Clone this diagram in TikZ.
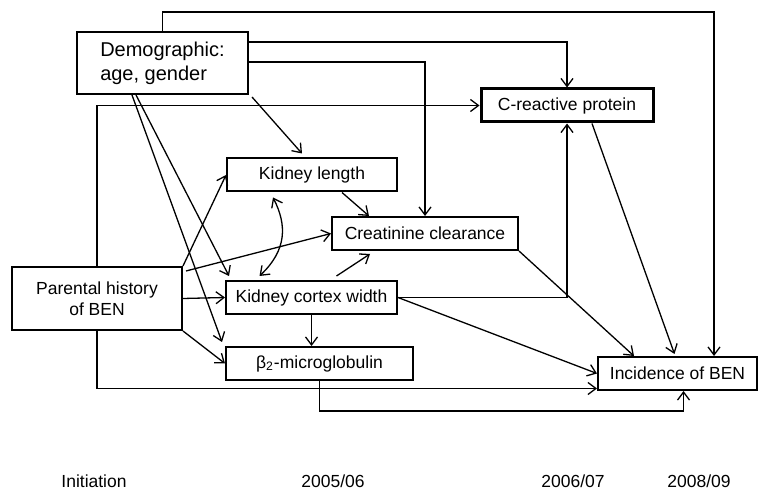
\documentclass[tikz,border=0pt]{standalone}
\usepackage{fontspec}
\setmainfont{Liberation Sans}
\usetikzlibrary{calc,positioning,arrows.meta}

\tikzset{
  box/.style={draw, line width=1pt, inner sep=0pt, minimum height=16.5pt,
    font=\fontsize{8.75pt}{10.5pt}\selectfont},
  link/.style={-{Straight Barb[length=4pt,width=6pt]}, line width=0.65pt},
  yearlbl/.style={font=\fontsize{8.75pt}{10.5pt}\selectfont}
}

\begin{document}
\begin{tikzpicture}[x=0.5pt,y=-0.5pt]
    \useasboundingbox (0,0) rectangle (760,491);

    % boxes
    \node[box, minimum width=85.5pt, minimum height=31pt, align=left,
      font=\fontsize{10pt}{12pt}\selectfont] (dem) at (162.5,63) {Demographic:\\age, gender};
    \node[box, minimum width=85pt, minimum height=31.5pt, align=center] (par) at (97,298.5) {Parental history\\of BEN};
    \node[box, line width=1.5pt, minimum width=86pt] (crp) at (567,105.5) {C-reactive protein};
    \node[box, minimum width=85pt] (kl) at (312,175) {Kidney length};
    \node[box, minimum width=93pt] (cc) at (425,233.5) {Creatinine clearance};
    \node[box, minimum width=85.5pt] (kc) at (311.5,297.5) {Kidney cortex width};
    \node[box, minimum width=93.5pt] (b2m) at (319.5,363.5) {β\textsubscript{2}-microglobulin};
    \node[box, minimum width=79.5pt] (inc) at (677.5,373.5) {Incidence of BEN};

    \coordinate (topright) at (714,12);

    % from demographic
    \draw[link] (dem.north) |- (topright) -- (topright |- inc.north);
    \draw[link] ($(dem.north east)+(0,11)$) -| (crp.north);
    \draw[link] ($(dem.north east)+(0,31)$) -| (cc.north);
    \draw[link] ($(dem.south east)+(3,2)$) -- ($(kl.north)+(-10,-4)$);
    \draw[link] ($(dem.south west)+(60,0)$) -- ($(kc.north west)+(4,-4)$);
    \draw[link] ($(dem.south west)+(56,0)$) -- ($(b2m.north west)+(-3,-4)$);

    % from parental history
    \draw[link] (par.north east) -- (kl.west);
    \draw[link] ($(par.north east)+(3,5)$) -- (cc.west);
    \draw[link] (par.east) -- (kc.west);
    \draw[link] (par.south east) -- (b2m.west);
    \draw[link] (par.north) |- (crp.west);
    \draw[link] (par.south) |- ($(inc.west)+(0,15)$);

    % kidney measures
    \draw[link, {Straight Barb[length=4pt,width=6pt]}-{Straight Barb[length=4pt,width=6pt]}]
      ($(kl.south)+(-39,5)$) .. controls (287,225) and (287,250) .. ($(kc.north)+(-52,-4)$);
    \draw[link] ($(kl.south)+(30,0)$) -- ($(cc.north)+(-56,0)$);
    \draw[link] ($(kc.north)+(25,-4)$) -- ($(cc.south)+(-55,3)$);
    \draw[link] (kc.south) -- (kc.south |- b2m.north);
    \draw[link] (kc.east) -| (crp.south);
    \draw[link] (kc.east) -- (inc.west);
    \draw[link] (cc.south east) -- ($(inc.north west)+(37,0)$);
    \draw[link] ($(crp.south)+(25,0)$) -- ($(inc.north)+(-3,-2)$);
    \draw[link] (b2m.south) -- ++(0,30) -| ($(inc.south)+(6,0)$);

    % time axis
    \node[yearlbl] (t0) at (94,481) {Initiation};
    \node[yearlbl] (t1) at (333,481) {2005/06};
    \node[yearlbl] (t2) at (573,481) {2006/07};
    \node[yearlbl] (t3) at (699,481) {2008/09};

\end{tikzpicture}
\end{document}
